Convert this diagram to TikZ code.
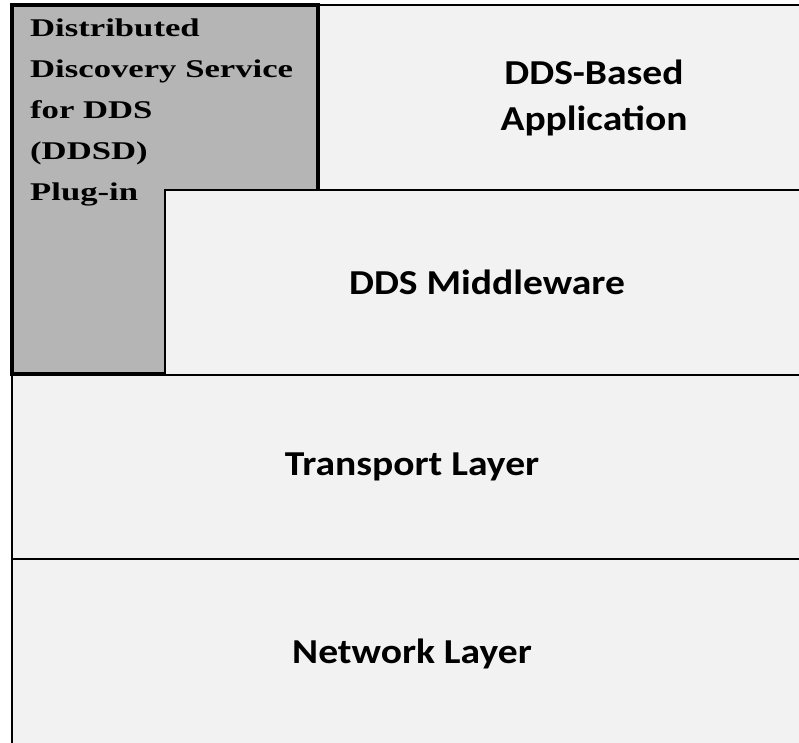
\documentclass[tikz,border=0pt]{standalone}
\usepackage{fontspec}
\setmainfont[FakeStretch=1.13]{Carlito}
\newfontfamily\pluginfont[FakeStretch=1.36]{Liberation Serif}
\usepackage{xcolor}
\usepackage{tikz}
\usetikzlibrary{positioning}
\definecolor{layerfill}{RGB}{242,242,242}
\definecolor{pluginfill}{RGB}{181,181,181}

\begin{document}
\begin{tikzpicture}[x=1pt, y=1pt]
    % Define styles
    \tikzstyle{layer} = [rectangle, anchor=south west, inner sep=0pt, outer sep=0pt, draw=black, line width=1.6pt, fill=layerfill, align=center, font=\fontsize{35}{46}\selectfont\bfseries]
    \tikzstyle{plugin} = [rectangle, anchor=south west, inner sep=0pt, outer sep=0pt, draw=black, line width=4.2pt, fill=pluginfill]
    \tikzstyle{plugintext} = [inner sep=0pt, anchor=north west, align=left, font=\pluginfont\fontsize{25.5}{41}\selectfont\bfseries]

    % Page
    \fill [white] (0,0) rectangle (799,742);
    \clip (0,0) rectangle (799,742);

    % Layers
    \node [layer, minimum width=800, minimum height=189] at (12,-6) (network) {Network Layer};
    \node [layer, minimum width=800, minimum height=184] at (12,183) (transport) {Transport Layer};
    \node [layer, minimum width=552, minimum height=185] at (318,552) (application) {DDS-Based\\Application};
    \node [plugin, minimum width=306, minimum height=369] at (12,368) (ddsd) {};
    \node [layer, minimum width=644, minimum height=185] at (165,367) (middleware) {DDS Middleware};

    % Plug-in text
    \node [plugintext, below right=13.5 and 18 of ddsd.north west] (ddsdtext) {Distributed\\Discovery Service\\for DDS\\(DDSD)\\Plug-in};
\end{tikzpicture}
\end{document}
